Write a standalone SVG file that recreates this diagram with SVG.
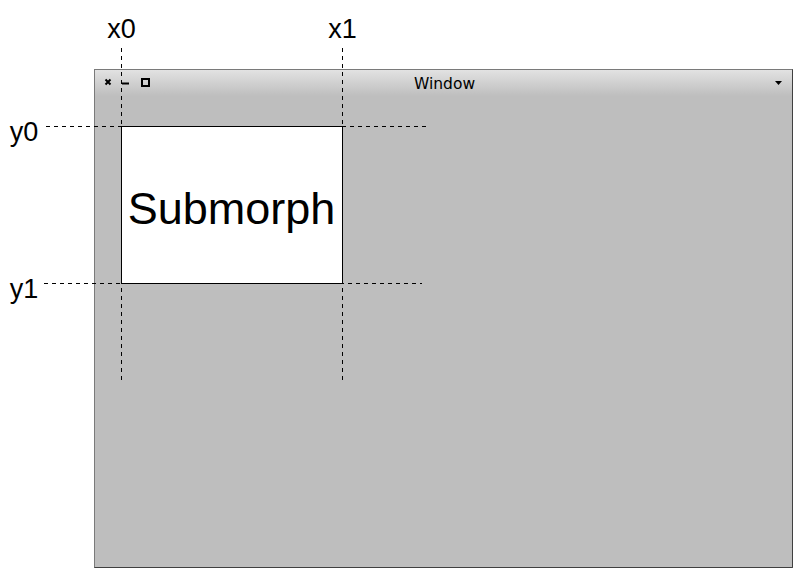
<svg xmlns="http://www.w3.org/2000/svg" width="803" height="578" viewBox="0 0 803 578">
<style>
.lbl{font-family:"Liberation Sans",Arial,sans-serif;font-size:27px;fill:#000}
.dash{stroke:#000;stroke-width:1;stroke-dasharray:4 4;fill:none}
</style>
<defs>
<linearGradient id="tb" x1="0" y1="0" x2="0" y2="1">
<stop offset="0" stop-color="#e2e2e2"/>
<stop offset="1" stop-color="#bebebe"/>
</linearGradient>
</defs>
<rect width="803" height="578" fill="#fff"/>
<g id="window">
<rect x="94.5" y="69.5" width="698" height="498" fill="#bebebe" stroke="#7a7a7a"/>
<rect x="95" y="70" width="697" height="26" fill="url(#tb)"/>
<path d="M94.5 567.5H792.5V69.5" fill="none" stroke="#404040"/>
<path d="M105.5 79.5l5 5M110.5 79.5l-5 5" stroke="#000" stroke-width="2"/>
<path d="M122 83.5h7" stroke="#000" stroke-width="2"/>
<rect x="142" y="79" width="7" height="7" fill="none" stroke="#000" stroke-width="2"/>
<text x="444.5" y="88.5" text-anchor="middle" font-family="'DejaVu Sans',Verdana,sans-serif" font-size="15.5" fill="#000">Window</text>
<path d="M775 81h7l-3.5 4z" fill="#000"/>
</g>
<g id="submorph">
<rect x="121.5" y="126.5" width="221" height="157" fill="#fff" stroke="#000"/>
<text x="231.5" y="224" text-anchor="middle" font-family="'Liberation Sans',Arial,sans-serif" font-size="45" fill="#000">Submorph</text>
</g>
<g id="connectors">
<path class="dash" d="M121.5 48V382"/>
<path class="dash" d="M342.5 48V382"/>
<path class="dash" d="M46 126.5H426"/>
<path class="dash" d="M44 283.5H422"/>
</g>
<g id="labels">
<text class="lbl" x="121.5" y="38" text-anchor="middle">x0</text>
<text class="lbl" x="342.5" y="38" text-anchor="middle">x1</text>
<text class="lbl" x="24" y="141" text-anchor="middle">y0</text>
<text class="lbl" x="24" y="298" text-anchor="middle">y1</text>
</g>
</svg>
